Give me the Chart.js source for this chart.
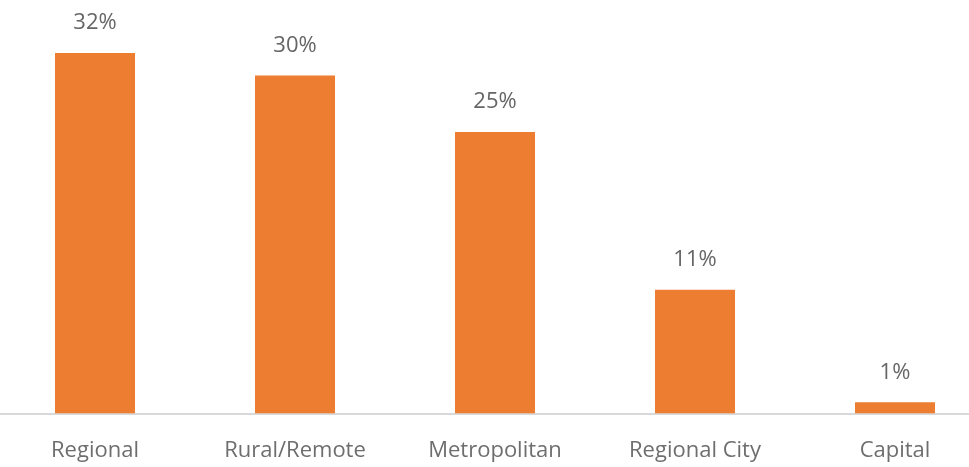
<!DOCTYPE html>
<html>
<head>
<meta charset="utf-8">
<script src="https://cdn.jsdelivr.net/npm/chart.js@4"></script>
<style>
  html, body { margin: 0; padding: 0; background: #fff; overflow: hidden; }
  #wrap { position: absolute; left: -5px; top: 0; width: 1000px; height: 488px; }
</style>
</head>
<body>
<div id="wrap"><canvas id="areaChart"></canvas></div>
<script>
var categories = ['Regional', 'Rural/Remote', 'Metropolitan', 'Regional City', 'Capital'];
var shares = [32, 30, 25, 11, 1];

var labelFont = '"Open Sans", Lato, sans-serif';

// writes the percentage above each bar
var valueLabels = {
	id: 'valueLabels',
	afterDatasetsDraw: function (chart) {
		var c = chart.ctx;
		var meta = chart.getDatasetMeta(0);
		c.save();
		c.font = '22px ' + labelFont;
		c.fillStyle = '#666666';
		c.textAlign = 'center';
		c.textBaseline = 'middle';
		meta.data.forEach(function (bar, i) {
			c.fillText(shares[i] + '%', bar.x, bar.y - 30);
		});
		c.restore();
	}
};

var ctx = document.getElementById('areaChart').getContext('2d');
var areaChart = new Chart(ctx, {
	type: 'bar',
	data: {
		labels: categories,
		datasets: [{
			data: shares,
			backgroundColor: '#ED7D31',
			borderWidth: 0,
			categoryPercentage: 1,
			barPercentage: 0.4
		}]
	},
	options: {
		responsive: true,
		maintainAspectRatio: false,
		animation: false,
		layout: { padding: { top: 8, left: 0, right: 0, bottom: 0 } },
		scales: {
			x: {
				grid: { display: false, drawTicks: false },
				border: { display: true, color: '#D9D9D9', width: 2 },
				ticks: {
					color: '#6e6e6e',
					padding: 24,
					font: { family: labelFont, size: 22 }
				}
			},
			y: {
				display: false,
				min: 0,
				max: 36
			}
		},
		plugins: {
			legend: { display: false },
			tooltip: { enabled: false }
		}
	},
	plugins: [valueLabels]
});
</script>
</body>
</html>
